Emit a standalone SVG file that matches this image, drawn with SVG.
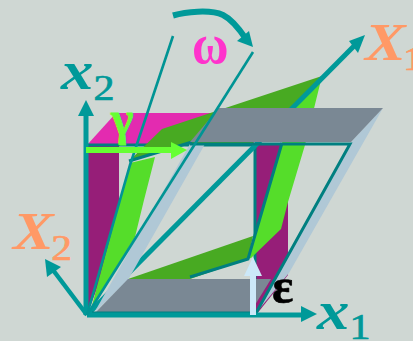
<svg xmlns="http://www.w3.org/2000/svg" width="413" height="341" viewBox="0 0 413 341">
<style>
.serif{font-family:"Liberation Serif","Times New Roman",serif}
.ax{fill:none;stroke:#009999;stroke-width:5}
.thin{fill:none;stroke:#009494;stroke-width:2.6}
.edge{fill:none;stroke:#007f80;stroke-width:3}
.teal{fill:#009999}
.lab{font-style:italic;font-weight:bold;fill:#009999}
.cap{font-style:italic;font-weight:bold;fill:#ff9966}
.sub{font-style:normal;font-weight:normal;stroke-width:.7}
.lab .sub{stroke:#009999}
.cap .sub{stroke:#ff9966}
</style>
<rect width="413" height="341" fill="#cfd7d3"/>
<g id="square">
<polygon points="87,145 116,113 240,113 255,145" fill="#e32bb0"/>
<polygon points="87,145 119,145 119,230 87,315" fill="#961e78"/>
<polygon points="255,143 288,143 288,275 256,315 255,315" fill="#961e78"/>
<path d="M87,145H255V279" class="edge"/>
</g>
<g id="sheared-green">
<polygon points="129,161 162,129 322,76 300,110 250,145 192,143" fill="#48aa22"/>
<polygon points="128,279 253,236 248,259 190,279" fill="#48aa22"/>
<polygon points="130,163 155,157 144,200 135,237 90,313" fill="#55dd2a"/>
<polygon points="322,76 305,145 288,202 281,229 251,258 248,259 282,143 296,105" fill="#55dd2a"/>
<path d="M129,161 192,142" class="edge"/>
<path d="M190,277 248,259 282,143" class="edge"/>
</g>
<g id="connectors-back">
<path d="M87,315 355,45" class="ax"/>
</g>
<g id="sheared-frame">
<polygon points="190,144 205,144 128,280 94,313" fill="#b0c8d6"/>
<polygon points="383,108 351,142 256,313 289,273" fill="#b0c8d6"/>
<polygon points="219,108 383,108 351,142 190,142" fill="#7a8894"/>
<polygon points="128,279 271,279 250,313 95,313" fill="#7a8894"/>
<path d="M190,144H350L256,313" class="edge"/>
<path d="M92,313H252" class="edge"/>
</g>
<g id="connectors">
<path d="M86,315V114" class="ax"/>
<polygon points="86,100 78,116 94,116" class="teal"/>
<path d="M87,315H303" class="ax"/>
<polygon points="317,314 301,306 301,322" class="teal"/>
<polygon points="365,35 349,41 358,53" class="teal"/>
<path d="M87,315 53,270" fill="none" stroke="#009999" stroke-width="4.5"/>
<polygon points="45,259 47,277 61,267" class="teal"/>
<path d="M173,36 130,165 87,315" class="thin"/>
<path d="M253,52 87,315" class="thin"/>
<path d="M173,15.5C185,12 210,9 223,15C233,20 240,30 246,39" fill="none" stroke="#009999" stroke-width="6"/>
<polygon points="253,47 237,41 249,31" class="teal"/>
<path d="M86,150H172" fill="none" stroke="#66ff33" stroke-width="6"/>
<polygon points="187,150 171,142 171,159" fill="#66ff33"/>
<path d="M253,315V274" fill="none" stroke="#cce8f8" stroke-width="6"/>
<polygon points="253,257 244,276 262,276" fill="#cce8f8"/>
</g>
<g id="labels" class="serif">
<text class="lab" transform="translate(61,89) scale(1.2,1)" font-size="54">x<tspan class="sub" font-size="35" dy="11">2</tspan></text>
<text class="lab" transform="translate(317,329) scale(1.2,1)" font-size="54">x<tspan class="sub" font-size="35" dy="10">1</tspan></text>
<text class="cap" transform="translate(365,60) scale(1.15,1)" font-size="53">X<tspan class="sub" font-size="34" dx="-2" dy="10">1</tspan></text>
<text class="cap" transform="translate(13,249) scale(1.15,1)" font-size="53">X<tspan class="sub" font-size="36" dx="-2" dy="11">2</tspan></text>
<text transform="translate(192,62.5) scale(1,1.12)" font-size="50" font-weight="bold" fill="#ff33cc">ω</text>
<text x="111" y="135" font-size="48" font-weight="bold" fill="#66ff33" stroke="#66ff33" stroke-width=".8">γ</text>
<text x="272" y="303" font-size="50" font-weight="bold" fill="#000" stroke="#000" stroke-width=".6">ε</text>
</g>
</svg>
